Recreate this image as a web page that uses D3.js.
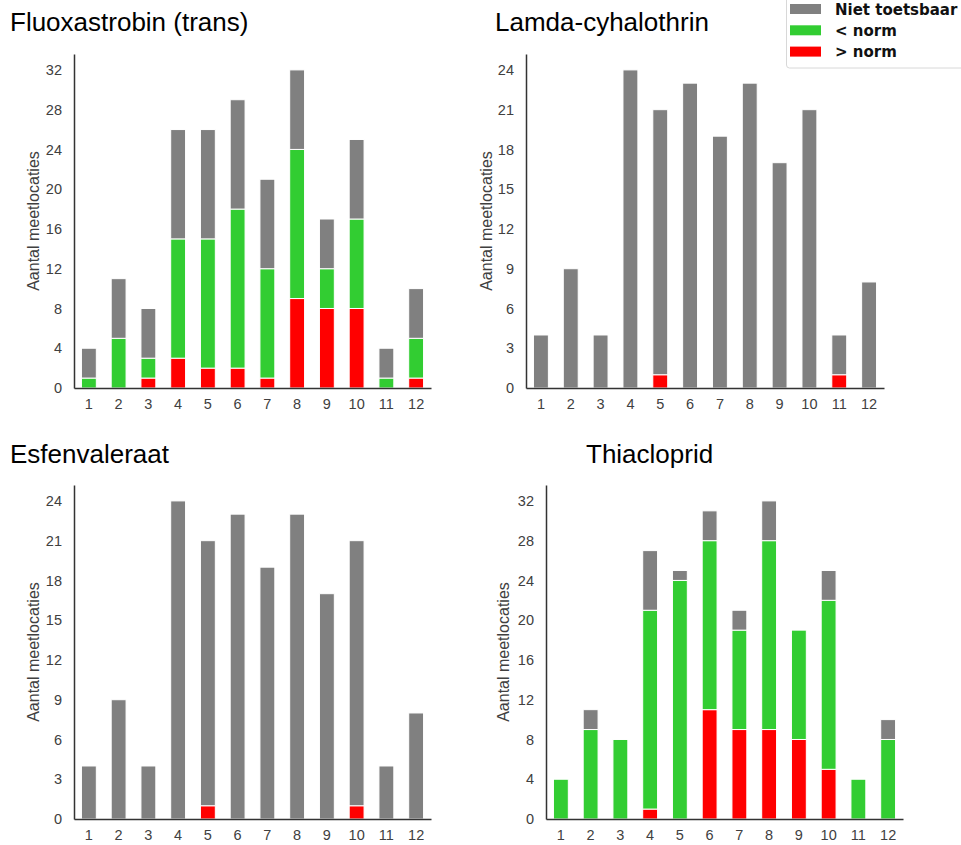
<!DOCTYPE html>
<html>
<head>
<meta charset="utf-8">
<script src="https://cdn.jsdelivr.net/npm/d3@7"></script>
<style>
body { margin: 0; background: #fff; }
</style>
</head>
<body>
<div id="c"></div>
<script>
var months = ['1','2','3','4','5','6','7','8','9','10','11','12'];

// per stof: > norm (rood), < norm (groen), niet toetsbaar (grijs)
var fluo_boven = [0, 0, 1, 3, 2, 2, 1, 9, 8, 8, 0, 1];
var fluo_onder = [1, 5, 2, 12, 13, 16, 11, 15, 4, 9, 1, 4];
var fluo_niet  = [3, 6, 5, 11, 11, 11, 9, 8, 5, 8, 3, 5];

var lamda_boven = [0, 0, 0, 0, 1, 0, 0, 0, 0, 0, 1, 0];
var lamda_onder = [0, 0, 0, 0, 0, 0, 0, 0, 0, 0, 0, 0];
var lamda_niet  = [4, 9, 4, 24, 20, 23, 19, 23, 17, 21, 3, 8];

var esfen_boven = [0, 0, 0, 0, 1, 0, 0, 0, 0, 1, 0, 0];
var esfen_onder = [0, 0, 0, 0, 0, 0, 0, 0, 0, 0, 0, 0];
var esfen_niet  = [4, 9, 4, 24, 20, 23, 19, 23, 17, 20, 4, 8];

var thia_boven = [0, 0, 0, 1, 0, 11, 9, 9, 8, 5, 0, 0];
var thia_onder = [4, 9, 8, 20, 24, 17, 10, 19, 11, 17, 4, 8];
var thia_niet  = [0, 2, 0, 6, 1, 3, 2, 4, 0, 3, 0, 2];

var ticks_32 = [0, 4, 8, 12, 16, 20, 24, 28, 32];
var ticks_24 = [0, 3, 6, 9, 12, 15, 18, 21, 24];

var cats = ['> norm', '< norm', 'Niet toetsbaar'];
var colors = {'> norm': '#ff0000', '< norm': '#32cd32', 'Niet toetsbaar': '#808080'};

var font = '"Liberation Sans", Arial, sans-serif';

var panels = [
	{title: 'Fluoxastrobin (trans)', tx: 10, ty: 31, x0: 74, x1: 431, top: 54, bottom: 388, labx: 33,
	 vals: [fluo_boven, fluo_onder, fluo_niet], ticks: ticks_32},
	{title: 'Lamda-cyhalothrin', tx: 495, ty: 31, x0: 526, x1: 884, top: 54, bottom: 388, labx: 486,
	 vals: [lamda_boven, lamda_onder, lamda_niet], ticks: ticks_24},
	{title: 'Esfenvaleraat', tx: 10, ty: 463, x0: 74, x1: 431, top: 485, bottom: 819, labx: 33,
	 vals: [esfen_boven, esfen_onder, esfen_niet], ticks: ticks_24},
	{title: 'Thiacloprid', tx: 586, ty: 463, x0: 546, x1: 903, top: 485, bottom: 819, labx: 503,
	 vals: [thia_boven, thia_onder, thia_niet], ticks: ticks_32}
];

var width = 961, height = 845;

var svg = d3.select('#c').append('svg')
	.attr('width', width)
	.attr('height', height);

panels.forEach(function(p) {
	var rows = months.map(function(m, i) {
		var r = {month: m};
		cats.forEach(function(c, j) { r[c] = p.vals[j][i]; });
		return r;
	});
	var series = d3.stack().keys(cats)(rows);
	var ymax = d3.max(p.ticks);

	var x = d3.scaleBand()
		.domain(months)
		.range([p.x0, p.x1])
		.paddingInner(0.5)
		.paddingOuter(0.25);

	var y = d3.scaleLinear()
		.domain([0, ymax * 1.05])
		.range([p.bottom, p.top]);

	var g = svg.append('g');

	g.append('text')
		.attr('x', p.tx)
		.attr('y', p.ty)
		.attr('font-size', 26)
		.attr('font-family', font)
		.attr('fill', '#000')
		.text(p.title);

	g.selectAll('g.serie')
		.data(series)
		.enter()
		.append('g')
		.attr('class', 'serie')
		.attr('fill', function(d) { return colors[d.key]; })
		.selectAll('rect')
		.data(function(d) { return d.filter(function(e) { return e[1] > e[0]; }); })
		.enter()
		.append('rect')
		.attr('x', function(d) { return x(d.data.month); })
		.attr('width', x.bandwidth())
		.attr('y', function(d) { return y(d[1]); })
		.attr('height', function(d) { return y(d[0]) - y(d[1]); })
		.attr('stroke', '#fff')
		.attr('stroke-width', 1);

	var ya = g.append('g')
		.attr('transform', 'translate(' + p.x0 + ',0)')
		.call(d3.axisLeft(y).tickValues(p.ticks).tickSize(0).tickPadding(12));
	var xa = g.append('g')
		.attr('transform', 'translate(0,' + p.bottom + ')')
		.call(d3.axisBottom(x).tickSize(0).tickPadding(11));

	[ya, xa].forEach(function(a) {
		a.select('.domain').attr('stroke', '#333').attr('stroke-width', 1.5);
		a.selectAll('text')
			.attr('font-size', 14.5)
			.attr('fill', '#404040')
			.attr('font-family', font);
	});

	g.append('text')
		.attr('transform', 'translate(' + p.labx + ',' + ((p.top + p.bottom) / 2) + ') rotate(-90)')
		.attr('text-anchor', 'middle')
		.attr('dy', '0.35em')
		.attr('font-size', 16)
		.attr('font-family', font)
		.attr('fill', '#404040')
		.text('Aantal meetlocaties');
});

// legenda
var leg = svg.append('g');
leg.append('rect')
	.attr('x', 786.5)
	.attr('y', -5)
	.attr('width', 200)
	.attr('height', 73)
	.attr('rx', 3)
	.attr('fill', '#fff')
	.attr('stroke', '#d8d8d8');

var leg_items = ['Niet toetsbaar', '< norm', '> norm'];
leg.selectAll('g.item')
	.data(leg_items)
	.enter()
	.append('g')
	.attr('class', 'item')
	.attr('transform', function(d, i) { return 'translate(790,' + (4 + i * 21.3) + ')'; })
	.each(function(d) {
		var it = d3.select(this);
		it.append('rect')
			.attr('width', 31)
			.attr('height', 10)
			.attr('fill', colors[d]);
		it.append('text')
			.attr('x', 45)
			.attr('y', 5.5)
			.attr('dy', '0.35em')
			.attr('font-size', 15)
			.attr('font-weight', 'bold')
			.attr('font-family', '"DejaVu Sans", sans-serif')
			.attr('fill', '#111')
			.text(d);
	});
</script>
</body>
</html>
